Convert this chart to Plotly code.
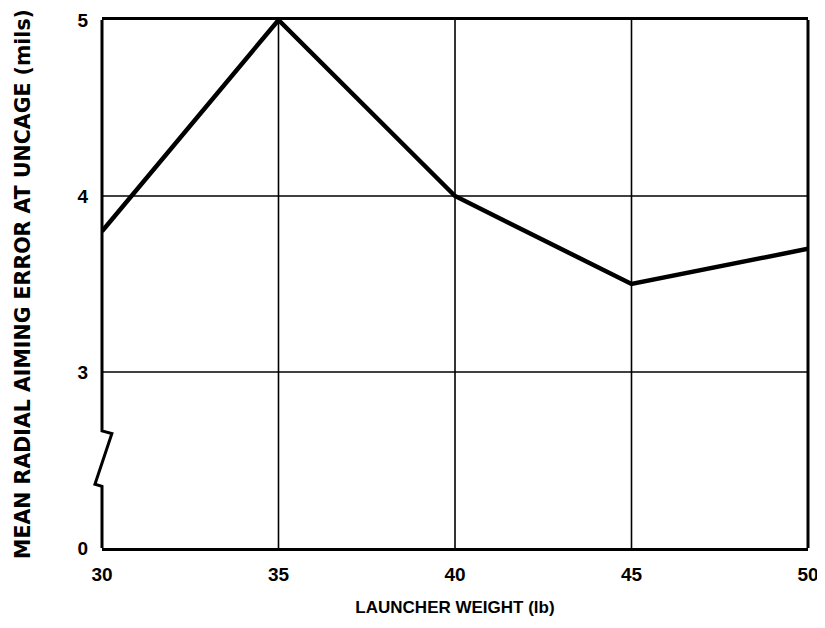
import plotly.graph_objects as go

# Data
launcher_weight = [30, 35, 40, 45, 50]
aiming_error = [3.8, 5.0, 4.0, 3.5, 3.7]

x_ticks = [30, 35, 40, 45, 50]
y_tick_values = [0, 3, 4, 5]
y_tick_labels = ["0", "3", "4", "5"]

# Broken y axis: 0..3 is compressed into one unit (2..3 on the plotted scale)
BREAK_LOW = 3.0


def axis_pos(v):
    if v >= BREAK_LOW:
        return v
    return 2.0 + v / BREAK_LOW


font_family = "Liberation Sans, Arial, sans-serif"
wide_family = "DejaVu Sans, Liberation Sans, sans-serif"

fig = go.Figure()
fig.add_trace(go.Scatter(
    x=launcher_weight,
    y=[axis_pos(v) for v in aiming_error],
    mode="lines",
    line=dict(color="black", width=4.5),
    showlegend=False,
    hoverinfo="skip",
))

shapes = []
# vertical grid lines (interior ticks)
for xv in x_ticks[1:-1]:
    shapes.append(dict(type="line", xref="x", yref="y domain", x0=xv, x1=xv, y0=0, y1=1,
                       line=dict(color="black", width=1.6), layer="below"))
# horizontal grid lines (interior ticks)
for yv in y_tick_values[1:-1]:
    p = axis_pos(yv)
    shapes.append(dict(type="line", xref="x domain", yref="y", x0=0, x1=1, y0=p, y1=p,
                       line=dict(color="black", width=1.6), layer="below"))
# right border
shapes.append(dict(type="line", xref="x domain", yref="y domain", x0=1, x1=1, y0=0, y1=1,
                   line=dict(color="black", width=3)))
# left axis with break symbol (domain coordinates)
b_top = 0.65 / 3
b_bot = 0.35 / 3
left_path = (f"M0,1 L0,{b_top + 0.005} L0.014,{b_top} "
             f"L-0.010,{b_bot + 0.004} L0,{b_bot} L0,0")
shapes.append(dict(type="path", xref="x domain", yref="y domain", path=left_path,
                   line=dict(color="black", width=3)))

fig.update_layout(
    width=817, height=620,
    margin=dict(l=94, r=17, t=12, b=80),
    paper_bgcolor="white", plot_bgcolor="white",
    font=dict(family=font_family, color="black", size=19),
    shapes=shapes,
    xaxis=dict(
        range=[30, 50], automargin=False,
        tickmode="array", tickvals=x_ticks, ticktext=[str(v) for v in x_ticks],
        showgrid=False, zeroline=False,
        showline=True, mirror=True, linecolor="black", linewidth=3,
        ticks="", ticklabelstandoff=7,
        tickfont=dict(size=19, family=font_family, weight="bold"),
        title=dict(text="LAUNCHER WEIGHT (lb)", standoff=18,
                   font=dict(size=17, family=font_family, weight="bold")),
    ),
    yaxis=dict(
        range=[2, 5], automargin=False,
        tickmode="array", tickvals=[axis_pos(v) for v in y_tick_values], ticktext=y_tick_labels,
        showgrid=False, zeroline=False, showline=False,
        ticks="", ticklabelstandoff=13,
        tickfont=dict(size=19, family=font_family, weight="bold"),
        title=dict(text="MEAN RADIAL AIMING ERROR AT UNCAGE (mils)", standoff=41,
                   font=dict(size=20.5, family=wide_family, weight="bold")),
    ),
)

fig.write_html("out.html")
